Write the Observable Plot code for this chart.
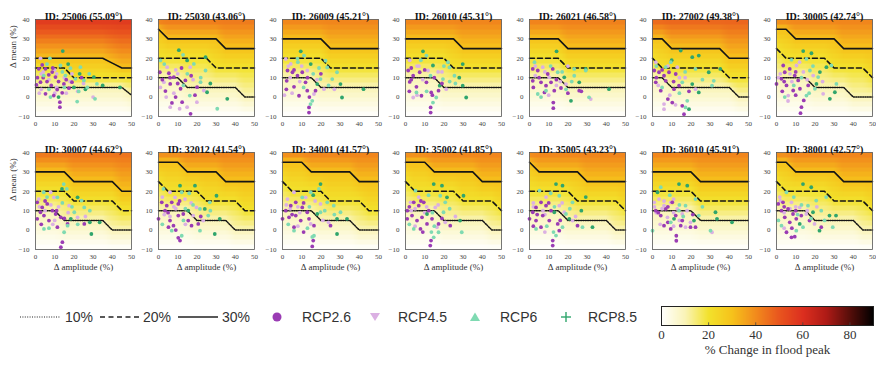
<!DOCTYPE html>
<html><head><meta charset="utf-8">
<script src="https://cdn.jsdelivr.net/npm/d3@7"></script>
<script src="https://cdn.jsdelivr.net/npm/@observablehq/plot@0.6"></script>
<style>
body{margin:0;background:#fff;}
#wrap{position:relative;width:876px;height:367px;overflow:hidden;background:#fff;}
#wrap > svg, #wrap > div{position:absolute;}
</style></head><body><div id="wrap"></div>
<script>
// ---------- data ----------
const ids  = ["25006","25030","26009","26010","26021","27002","30005","30007","32012","34001","35002","35005","36010","38001"];
const lats = ["55.09","43.06","45.21","45.31","46.58","49.38","42.74","44.62","41.54","41.57","41.85","43.23","45.91","42.57"];
const gridX = [0,5,10,15,20,25,30,35,40,45,50];
const c10 = [
 [5,5,5,5,5,5,5,5,5,5,1],
 [10,10,10,5,5,5,5,5,5,0,0],
 [10,10,10,10,5,5,5,5,5,5,5],
 [10,10,10,10,5,5,5,5,5,5,5],
 [10,10,10,10,5,5,5,5,5,5,5],
 [10,10,5,5,5,5,5,5,5,0,0],
 [10,10,10,10,5,5,5,5,0,0,0],
 [10,10,10,5,5,5,5,5,0,0,0],
 [10,10,10,10,5,5,5,5,0,0,0],
 [10,10,10,10,5,5,5,5,0,0,0],
 [10,10,10,10,5,5,5,5,5,0,0],
 [10,10,10,10,5,5,5,5,5,0,0],
 [10,10,10,10,10,5,5,5,5,5,5],
 [10,10,10,10,5,5,5,5,5,0,0]
];
const c20 = [
 [15,15,15,15,10,10,10,10,10,10,10],
 [20,20,20,20,20,20,15,15,15,15,15],
 [20,20,20,20,20,15,15,15,15,15,15],
 [20,20,20,20,20,15,15,15,15,15,15],
 [20,20,20,20,15,15,15,15,15,15,15],
 [20,15,15,15,15,15,15,15,10,10,10],
 [25,20,20,20,20,20,15,15,15,15,10],
 [20,20,20,20,15,15,15,15,15,10,10],
 [25,20,20,20,20,15,15,15,15,10,10],
 [25,20,20,20,20,15,15,15,15,10,10],
 [25,20,20,20,20,20,15,15,15,15,10],
 [20,20,20,20,20,15,15,15,15,15,10],
 [20,20,20,20,20,15,15,15,15,15,15],
 [25,20,20,20,20,20,15,15,15,15,10]
];
const c30 = [
 [20,20,20,20,20,20,20,20,17.5,15,15],
 [35,30,30,30,30,30,30,25,25,25,25],
 [30,30,30,30,30,25,25,25,25,25,25],
 [30,30,30,30,30,30,25,25,25,25,25],
 [30,30,30,30,25,25,25,25,25,25,25],
 [30,30,25,25,25,25,25,25,20,20,20],
 [35,35,30,30,30,30,30,25,25,25,25],
 [30,30,30,30,25,25,25,25,25,20,20],
 [35,35,35,30,30,30,30,25,25,25,25],
 [35,35,35,30,30,30,30,30,25,25,25],
 [35,35,35,30,30,30,30,30,25,25,25],
 [35,30,30,30,30,30,25,25,25,25,25],
 [30,30,30,30,30,25,25,25,25,25,25],
 [35,35,30,30,30,30,30,25,25,25,25]
];
const topVal = [58,44,42,42,43,48,42,45,42,42,42,42,42,42];
const rcpNames  = ["RCP2.6","RCP4.5","RCP6","RCP8.5"];
const rcpColors = ["#9a3cb4","#dbb0e3","#7fdab2","#2fa56c"];

// points: [Δ amplitude, Δ mean, rcp index]
const pts_25006 = [[1.7,14.6,0],[3.5,16.6,0],[5.2,14.6,0],[6.9,11.5,0],[8.7,12.9,0],[10.4,10.3,0],[0.5,6.3,0],[2.6,7.7,0],[6,8,0],[8.2,6,0],[11.3,3.9,0],[13.9,2.2,0],[14.8,6.8,0],[17.4,4.6,0],[12.7,-2.6,0],[12.7,-5.2,0],[5.2,1.7,0],[9.5,0.8,0],[19,7.7,0],[4,10,0],[12,8,0],
 [2.6,20,1],[4,13,1],[7,9,1],[10,14,1],[15,10,1],[18,8,1],[3,4,1],[22,3,1],[11,5,1],[16,2,1],[25,7,1],[30,0,1],
 [7.5,20,2],[13,16.3,2],[18.2,14.9,2],[23.4,15.4,2],[15.6,11.1,2],[20.8,9.4,2],[25.2,8.6,2],[32,6.8,2],[4.3,11.1,2],[22.5,2.9,2],[7.8,0,2],[21.7,-2.3,2],[31,-0.9,2],[28,12,2],
 [14.2,23.7,3],[30.4,10.3,3],[17,17,3],[23,12,3],[44,5,3],[20,5,3],[12,0,3],[26,4,3],[35,6,3],
 [3,12,1],[6,17,2],[9,15,0],[11,12,1],[14,13,2],[16,9,0],[1,10,0],[7,4,2],[10,2,1],[15,5,2],[19,12,1],[24,10,0],[27,5,2],[2,2,1]];
const pts_25030 = [[10.6,24.2,3],[24.5,20.6,3],[14.9,18.9,3],[35.8,-0.9,3],[25.3,2.5,3],
 [12.8,21.8,2],[1,18.9,2],[16.3,0.8,2],[30.6,-6,2],[21.9,7.7,2],[24.5,13.7,2],[18.4,17.1,2],
 [4.5,15.4,1],[6.1,-5.2,1],[14.9,-5.2,1],[20,-2.6,1],[16.5,15.4,1],[2.8,7.7,1],[23.6,3.4,1],[10,12,1],[8,2,1],
 [0.7,12.8,0],[5.4,12.3,0],[8,10.3,0],[6.1,6.8,0],[3.6,3.1,0],[11.5,4.3,0],[14,8.6,0],[8.9,0,0],[12.3,-2.6,0],[16.7,-8.6,0],[20.1,5.1,0],[2,9,0],[10,7,0],[17,11,0],
 [3,17,2],[6,10,0],[9,14,1],[12,15,0],[15,12,2],[18,9,1],[4,0,1],[7,-3,0],[11,-6,1],[19,1,0],[22,10,2],[27,7,3],[13,6,2],[1,5,1]];
const pts_26009 = [[9.5,23.6,3],[2.6,13.7,0],[1.7,19.7,1],[7.8,19.8,2],[5.2,12.8,0],[7.8,11,0],[10.3,12.8,0],[12.9,13.7,1],[2.2,8.4,0],[6,5.3,0],[12,7.6,0],[8.6,0.7,0],[12.9,3.3,0],[13.8,-8,0],[13.8,-5.3,0],[15.5,-1.9,2],[14.6,-3.6,2],[19.8,9.3,2],[18.1,6.7,3],[17.2,3.3,0],[21.6,4.1,1],[23.3,15.3,2],[25.9,9.3,2],[30.2,6.7,3],[31,-0.2,3],[22.4,18.8,2],[14.7,17,3],[11.2,21.4,2],[16.4,1.6,1],[28.4,12.8,2],[42.2,4.1,3],[4.3,17.1,1],[4,10,1],[9,8,1],[1,1,1],[20,12,0],
 [3,16,1],[6,14,0],[10,16,1],[13,10,0],[16,12,2],[19,15,2],[2,4,0],[5,2,1],[11,5,2],[14,0,0],[18,9,1],[24,6,2],[27,4,1],[8,18,2]];
const pts_26010 = [[9.1,23.6,3],[1.4,13.7,0],[4,11,0],[7.4,12.8,0],[11.7,13.7,1],[2.2,7.8,0],[5.7,5.3,0],[10.9,7.6,0],[8.3,0.7,0],[13.4,2.4,0],[13.1,-8,0],[13.1,-5.3,0],[14.3,-2.8,2],[16,-0.2,2],[19.5,9.3,2],[17.8,5.9,3],[17.2,3.3,0],[21.2,4.1,1],[22.9,15.3,2],[25.5,11,2],[29.8,5.9,3],[31.6,-0.2,3],[22.1,18,2],[14.3,16.3,3],[10.9,21.4,2],[2.2,19,1],[29.8,17,3],[4,-0.2,1],[5.7,2.4,2],[6,16,1],[9,9,1],[15,10,0],[3,9,0],[26,7,2],[19,13,1],
 [3,15,0],[7,16,1],[10,14,0],[13,11,2],[17,13,1],[20,16,2],[2,3,0],[6,1,1],[11,3,2],[14,1,0],[19,7,0],[23,8,2],[28,10,3],[8,19,2]];
const pts_26021 = [[14.1,23.6,3],[2.6,18,2],[1.7,14.5,0],[4.3,13.7,0],[6.9,15.4,1],[9.5,11.9,0],[12.1,14.5,0],[1.7,8.4,0],[6,7.6,0],[8.6,5.9,0],[11.2,7.6,0],[7.8,2.4,0],[12.9,3.3,0],[16.4,4.7,0],[12.4,-2.8,0],[12.4,-5.7,0],[4.3,1.6,2],[14.7,12.8,2],[18.1,10.2,3],[19,6.7,1],[23.3,11,2],[23.3,14.5,2],[25.9,7.6,3],[29.3,13.7,2],[25.9,3.3,0],[21.6,-1.9,3],[31.9,-1,1],[31,-0.1,2],[41.4,4.1,3],[29.3,14.5,3],[8.6,3.3,2],[10.3,10.2,1],[3,11,1],[16,8,1],[20,2,0],
 [3,16,1],[5,10,0],[8,13,1],[11,16,2],[14,9,0],[17,13,2],[2,5,0],[6,0,2],[10,1,1],[14,6,1],[19,4,2],[22,8,2],[27,3,0],[20,16,1]];
const pts_27002 = [[14.7,24,3],[20.7,20.6,3],[24.1,21.4,3],[9.5,18,2],[1.7,18,1],[0.9,13.7,0],[3.4,12.8,0],[6,11,0],[8.6,12.8,0],[12.1,11.9,0],[1.7,7.6,0],[6.9,8.4,0],[11.2,4.1,0],[4.3,3.3,0],[13.8,5.9,0],[10.3,-2.8,0],[15.5,-4.5,0],[16.4,-8.8,0],[6,-3.6,1],[6,-6.2,1],[17.2,-5.3,2],[18.1,-1.9,2],[19,-6.2,3],[15.5,7.6,2],[20.7,6.7,3],[22.4,14.5,2],[29.3,12.8,3],[31,5.9,2],[24.1,2.4,3],[22.4,4.1,1],[35.3,14.5,3],[31.9,8.4,2],[12.9,15.4,1],[6.9,15.4,2],[3,6,1],[9,1,1],[17,10,1],
 [2,16,2],[5,14,0],[8,16,1],[11,8,0],[14,10,1],[17,13,2],[2,10,0],[5,5,2],[8,-1,0],[12,-4,1],[14,2,2],[19,3,0],[26,9,2],[10,19,3]];
const pts_30005 = [[13.9,23.7,3],[18.2,22.6,3],[15.6,19.7,2],[7.8,19.2,2],[0,6.8,0],[2.6,9.4,0],[4.3,12.8,0],[6.9,14.5,0],[9.5,11.1,0],[11.3,8.6,0],[5.2,6,0],[8.7,3.4,0],[12.2,4.3,0],[14.2,-1.7,0],[13,-5.2,0],[12.5,-8.3,0],[16.5,6,0],[3.5,16.3,0],[10.4,16.3,1],[19.1,11.1,1],[24.3,1.7,1],[6.1,0.8,1],[4.3,0,2],[15.6,0.8,2],[20,4.3,2],[21.7,10.3,2],[26,15.4,3],[28.6,16.3,2],[31.2,6.8,2],[27.8,-0.9,3],[30.4,2.5,3],[20.8,6.8,3],[17.4,13.7,2],[22.6,12.9,3],[2,12,1],[8,8,1],[14,13,1],
 [1,10,1],[4,8,0],[7,12,1],[10,13,0],[13,10,2],[16,9,1],[3,3,0],[6,-2,1],[10,1,0],[17,2,2],[19,16,2],[24,8,1],[9,6,2],[12,18,1]];
const pts_30007 = [[14.7,23.7,2],[13.8,21.2,3],[4.3,19.5,2],[7.9,19.5,1],[0.9,14.3,0],[3.5,11.7,0],[6.1,13.5,0],[8.8,10,0],[0.9,5.8,0],[4.4,7.5,0],[7,4.9,0],[10.5,8.3,0],[13.2,6.6,0],[11.4,1.5,0],[16.7,3.2,0],[14,-6.2,0],[13.2,-8.8,0],[25.4,3.2,0],[2.6,9.2,0],[1.7,16,1],[9.6,16.9,1],[17.5,12.6,1],[21.9,6.6,1],[4.4,0.6,2],[14.9,-1.1,2],[16.7,2.3,2],[20.2,9.2,2],[25.4,11.7,2],[21.9,16.9,3],[28.3,10,2],[28.3,4,3],[33.4,4,3],[29.1,-2,3],[24,15.2,2],[18.4,5.8,3],[11.4,16.9,2],[16.3,21.2,2],[5,10,1],[12,12,1],[9,3,1],
 [2,12,1],[5,15,0],[8,13,1],[11,10,0],[14,14,2],[17,9,1],[3,3,0],[7,1,2],[10,5,1],[15,6,0],[19,12,2],[22,3,2],[26,7,1],[6,17,2]];
const pts_32012 = [[2.6,21.2,2],[11.2,22.9,3],[19,22.9,3],[6,19.5,1],[1.7,14.3,0],[4.3,12.6,0],[6.9,14.3,0],[10.3,13.5,0],[0,5.8,0],[3.4,10,0],[6,4.9,0],[7.8,2.3,0],[10.3,7.5,0],[12.9,8.3,0],[15.5,4.9,0],[11.2,-5.4,0],[10.3,-4,0],[17.2,2.3,0],[20.7,3.2,0],[5.2,1.5,0],[8.6,16.9,1],[13.8,16,1],[19.8,11.7,1],[18.1,7.5,1],[23.3,4.9,1],[6.9,-0.3,2],[12.1,-2.9,2],[21.6,-0.3,2],[21.6,10.9,2],[26.7,14.3,2],[30.2,17.7,3],[31.9,5.8,3],[29.3,-2,3],[25.9,7.5,2],[24.1,10.9,3],[15.5,10,3],[12.1,19.5,2],[3,8,1],[9,11,1],[14,3,1],
 [2,17,1],[5,9,0],[8,12,1],[11,15,0],[14,11,2],[17,14,1],[2,3,2],[6,7,1],[9,0,0],[13,5,2],[18,13,2],[22,7,0],[27,10,2],[16,19,2]];
const pts_34001 = [[19.8,23.7,3],[19,21.2,2],[14.7,19.5,2],[6,19.5,1],[0,5.8,0],[1.7,10,0],[4.3,12.6,0],[6.9,14.3,0],[10.3,11.7,0],[12.9,9.2,0],[3.4,6.6,0],[6.9,7.5,0],[9.5,4.9,0],[6,1.5,0],[13.8,5.8,0],[16,-5.4,0],[15.5,-8.4,0],[16.4,2.3,0],[25,2.3,0],[12.1,16.9,1],[2.6,16,1],[19.8,13.5,1],[14.7,3.2,1],[6,-0.3,2],[16.4,-2.9,2],[19.8,9.2,2],[23.3,14.3,2],[28.4,5.8,3],[33.6,5.8,3],[30.2,9.2,2],[28.4,-2,3],[26.7,12.6,2],[18.1,8.3,3],[10.3,16.9,2],[15.5,-3.5,2],[4,11,1],[9,9,1],[21,5,1],
 [2,13,1],[5,8,0],[8,12,1],[11,14,0],[14,12,2],[17,15,1],[3,3,2],[8,2,1],[11,-1,0],[13,1,2],[22,10,2],[24,4,1],[27,8,2],[16,18,3]];
const pts_35002 = [[14.7,23.7,3],[19,22.9,3],[5.2,20.3,2],[2.6,14.3,1],[0.9,10,0],[4.3,14.3,0],[6.9,12.6,0],[9.5,14.3,0],[12.1,10,0],[0.9,5.8,0],[3.4,7.5,0],[6,4.9,0],[8.6,6.6,0],[11.2,3.2,0],[7.8,0.6,0],[13.8,5.8,0],[17.2,3.2,0],[12.9,-8,0],[13.3,-5.4,0],[23.3,2.3,0],[6.9,17,1],[15.5,11.7,1],[20.7,4,1],[16.4,1.5,1],[4.3,0.6,2],[14.7,-3.7,2],[17.2,-1.1,2],[19.8,9.2,2],[20.7,14.3,2],[21.6,16.9,3],[28.4,4.9,3],[29.3,-1.1,2],[30.2,17.7,3],[18.1,17.7,2],[11.2,8.3,3],[3,10,1],[10,9,1],[13.5,-1,2],
 [2,12,0],[5,11,1],[8,15,0],[11,12,1],[14,9,2],[17,13,1],[2,3,2],[5,2,1],[9,-1,0],[15,2,2],[19,6,0],[23,11,2],[26,7,1],[12,18,2]];
const pts_35005 = [[13.8,23.7,3],[17.2,22.9,3],[5.2,20.3,2],[0,5.8,0],[1.7,9.2,0],[3.4,11.7,0],[6,14.3,0],[8.6,12.6,0],[11.2,10,0],[3.4,4.9,0],[6.9,7.5,0],[10.3,4.9,0],[6,1.5,0],[14.7,3.2,0],[12.1,-5.4,0],[12.1,-8,0],[15.5,-0.3,0],[25,2.3,0],[8.6,17,1],[15.5,12.6,1],[18.1,9.2,1],[22.4,4.9,1],[3.4,0.6,2],[13.8,-2.8,2],[17.2,1.5,2],[19,8.3,2],[22.4,14.3,2],[29.3,17,3],[20.7,5.8,3],[27.6,1.5,2],[32.8,1.5,3],[15.5,17.7,2],[12.9,9.2,3],[2,14,1],[8,8,1],[12.5,-1,2],
 [2,12,1],[4,8,0],[7,10,1],[10,14,0],[13,12,2],[17,14,1],[2,2,0],[8,-1,1],[9,2,2],[16,5,0],[21,11,2],[24,7,1],[27,10,3],[11,19,2]];
const pts_36010 = [[13.8,23.7,3],[18.1,22.9,3],[4.3,22.1,2],[2.6,19.5,3],[0.9,14.3,1],[3.4,16,1],[6,12.6,1],[9.5,14.3,1],[12.9,10.9,1],[15.5,8.3,1],[7.8,6.6,1],[17.2,1.5,1],[19.8,4,1],[31,-1.1,1],[2,9,1],[5,11,1],[11,16,1],[14,5,1],[1.7,10,0],[4.3,7.5,0],[6.9,10.9,0],[10.3,14.3,0],[12.1,7.5,0],[6,2.3,0],[9.5,0.6,0],[14.7,2.3,0],[19.8,1.5,0],[22.4,1.5,0],[12.4,-2.9,0],[12.4,-5.5,0],[15.5,4.9,0],[0,-0.3,2],[9.5,4,2],[17.2,12.6,2],[22.4,16,2],[24.1,7.5,2],[21.6,4.9,3],[32.8,9.2,3],[33.6,5.8,3],[41.4,4,3],[30.2,-0.3,2],[13.8,10,2],[11.2,5.8,3],
 [1,12,1],[3,9,0],[6,15,1],[8,12,0],[11,9,1],[14,13,2],[4,3,1],[8,4,0],[11,2,1],[16,7,2],[18,10,1],[21,8,0],[26,12,2],[9,18,2]];
const pts_38001 = [[13.8,23.7,3],[18.1,22.1,3],[5.2,19.5,2],[0.9,13.5,0],[3.4,14.3,0],[2.6,10,0],[6,10.9,0],[8.6,8.3,0],[4.3,6.6,0],[6.9,4,0],[10.3,5.8,0],[12.9,7.5,0],[5.2,-1.1,0],[7.8,-3.7,0],[9.5,-3.4,0],[17.2,4.9,0],[23.3,1.5,0],[1.7,17,1],[7.8,14.3,1],[12.1,11.7,1],[15.5,8.3,1],[19.8,3.2,1],[2.6,2.3,2],[10.3,-0.3,2],[13.8,1.5,2],[16.4,12.6,2],[20.7,15.2,2],[23.3,10,2],[19,9.2,3],[27.6,7.5,3],[31,7.5,3],[22.4,-0.3,3],[12.1,3.2,3],[29.3,1.5,2],[25.9,17,2],[4,9,1],[10,12,1],
 [2,15,1],[4,12,0],[7,11,1],[10,10,0],[13,13,2],[16,10,1],[1,5,2],[4,1,1],[8,1,0],[11,8,2],[18,6,2],[21,12,1],[25,5,2],[9,17,2]];
const points = [pts_25006,pts_25030,pts_26009,pts_26010,pts_26021,pts_27002,pts_30005,pts_30007,pts_32012,pts_34001,pts_35002,pts_35005,pts_36010,pts_38001];

const heatDomain = [0,10,20,30,40,50,60,70,80,90];
const heatRange  = ["#ffffff","#faf4b8","#f2e22c","#f6c21b","#f28b1c","#e9551e","#dc2f1f","#ae1b16","#560e0a","#000000"];
const cbTicks = [0,20,40,60,80];

// ---------- helpers ----------
const colorOpt = {type:"linear", domain: heatDomain, range: heatRange, interpolate: "rgb"};
const serif = "'Liberation Serif','Times New Roman',serif";
function contourAt(arr, x){
  const i = Math.max(0, Math.min(9, Math.floor(x/5)));
  const t = (x - gridX[i]) / 5;
  return arr[i]*(1-t) + arr[i+1]*t;
}
function heatAt(p, x, y){
  const yq = -10 + (Math.floor((y+10)/2.5) + 0.5) * 2.5;
  const k = [[-10,0],[contourAt(c10[p],x),10],[contourAt(c20[p],x),20],[contourAt(c30[p],x),30],[40,topVal[p]]];
  for (let j=0;j<k.length-1;j++){
    if (yq <= k[j+1][0]){ const [y0,v0]=k[j],[y1,v1]=k[j+1]; return v0 + (v1-v0)*(yq-y0)/(y1-y0); }
  }
  return topVal[p];
}

const wrap = document.getElementById("wrap");
const drawOrder = [1,3,0,2];

ids.forEach((id, p) => {
  const row = p < 7 ? 0 : 1, col = p % 7;
  const L = 34.5 + col*123.5;
  const line = arr => gridX.map((x,i)=>({x, y: arr[i]}));
  const marks = [
    Plot.raster({fill: (x,y) => heatAt(p,x,y), x1:0, x2:50, y1:-10, y2:40, pixelSize:1}),
    Plot.line(line(c10[p]), {x:"x", y:"y", stroke:"#151515", strokeWidth:1.5, strokeDasharray:"1,1.3"}),
    Plot.line(line(c20[p]), {x:"x", y:"y", stroke:"#151515", strokeWidth:1.6, strokeDasharray:"5,3"}),
    Plot.line(line(c30[p]), {x:"x", y:"y", stroke:"#151515", strokeWidth:1.6}),
    ...drawOrder.map(k => Plot.dot(points[p].filter(d=>d[2]===k), {x:d=>d[0], y:d=>d[1], r:1.9, fill:rcpColors[k], stroke:"none"})),
    Plot.frame({stroke:"#555", strokeWidth:0.8}),
    Plot.text([`ID: ${id} (${lats[p]}°)`], {text:d=>d, frameAnchor:"top", dy:-6.5, fontSize:10, fontWeight:"bold", fill:"#111"})
  ];
  if (row === 1) marks.push(Plot.text(["Δ amplitude (%)"], {text:d=>d, frameAnchor:"bottom", dy:20.5, fontSize:9, fill:"#333"}));
  if (col === 0) marks.push(Plot.text(["Δ mean (%)"], {text:d=>d, frameAnchor:"left", dx:-22, rotate:-90, fontSize:9, fill:"#333"}));
  const svg = Plot.plot({
    width:126, height: row===0 ? 136 : 146,
    marginLeft:28, marginRight:2, marginTop:19, marginBottom: row===0 ? 20 : 30,
    style:{fontFamily:serif, fontSize:"7px", background:"transparent", color:"#444", overflow:"visible"},
    x:{domain:[0,50], ticks:[0,10,20,30,40,50], tickSize:0, tickPadding:5, label:null},
    y:{domain:[-10,40], ticks:[-10,0,10,20,30,40], tickSize:0, tickPadding:6, label:null},
    color: colorOpt,
    marks
  });
  svg.style.left = (L - 28) + "px";
  svg.style.top = (row===0 ? 0 : 132.5) + "px";
  wrap.appendChild(svg);
});

// colorbar
const cb = Plot.plot({
  width:229, height:64, marginLeft:14, marginRight:3, marginTop:6, marginBottom:39,
  style:{fontFamily:serif, fontSize:"13px", background:"transparent", color:"#333", overflow:"visible"},
  x:{domain:[0,90], ticks:cbTicks, tickSize:0, tickPadding:4, label:null},
  y:{domain:[0,1], axis:null},
  color: colorOpt,
  marks:[
    Plot.raster({fill:(x,y)=>x, x1:0, x2:90, y1:0, y2:1, pixelSize:1}),
    Plot.ruleX(cbTicks.slice(1), {y1:0, y2:0.14, stroke:"#444", strokeWidth:0.8}),
    Plot.frame({stroke:"#222", strokeWidth:1}),
    Plot.text(["% Change in flood peak"], {text:d=>d, frameAnchor:"bottom", dy:28, fontSize:13, fill:"#333"})
  ]
});
cb.style.left = "647px"; cb.style.top = "300px";
wrap.appendChild(cb);

// legend
const ns = "http://www.w3.org/2000/svg";
const lg = document.createElementNS(ns, "svg");
lg.setAttribute("width", 650); lg.setAttribute("height", 34);
lg.style.left = "0px"; lg.style.top = "300px";
const el = (tag, attrs) => { const e = document.createElementNS(ns, tag); for (const k in attrs) e.setAttribute(k, attrs[k]); lg.appendChild(e); return e; };
const txt = (x, s) => { const t = el("text", {x, y:17, "dominant-baseline":"central", "font-family":"'Liberation Sans',Arial,sans-serif", "font-size":14, fill:"#333"}); t.textContent = s; };
el("line", {x1:20, x2:60, y1:17, y2:17, stroke:"#222", "stroke-width":1.2, "stroke-dasharray":"1,1.4"}); txt(65, "10%");
el("line", {x1:100, x2:140, y1:17, y2:17, stroke:"#222", "stroke-width":1.4, "stroke-dasharray":"5,3.5"}); txt(143, "20%");
el("line", {x1:178, x2:218, y1:17, y2:17, stroke:"#222", "stroke-width":1.4}); txt(222, "30%");
el("circle", {cx:277, cy:17, r:4.5, fill:rcpColors[0]}); txt(302, rcpNames[0]);
el("polygon", {points:"370,13 380,13 375,21", fill:rcpColors[1]}); txt(398, rcpNames[1]);
el("polygon", {points:"470,21 480,21 475,12.5", fill:rcpColors[2]}); txt(500, rcpNames[2]);
el("line", {x1:561, x2:571, y1:17, y2:17, stroke:rcpColors[3], "stroke-width":1.4});
el("line", {x1:566, x2:566, y1:12, y2:22, stroke:rcpColors[3], "stroke-width":1.4}); txt(588, rcpNames[3]);
wrap.appendChild(lg);
</script></body></html>
